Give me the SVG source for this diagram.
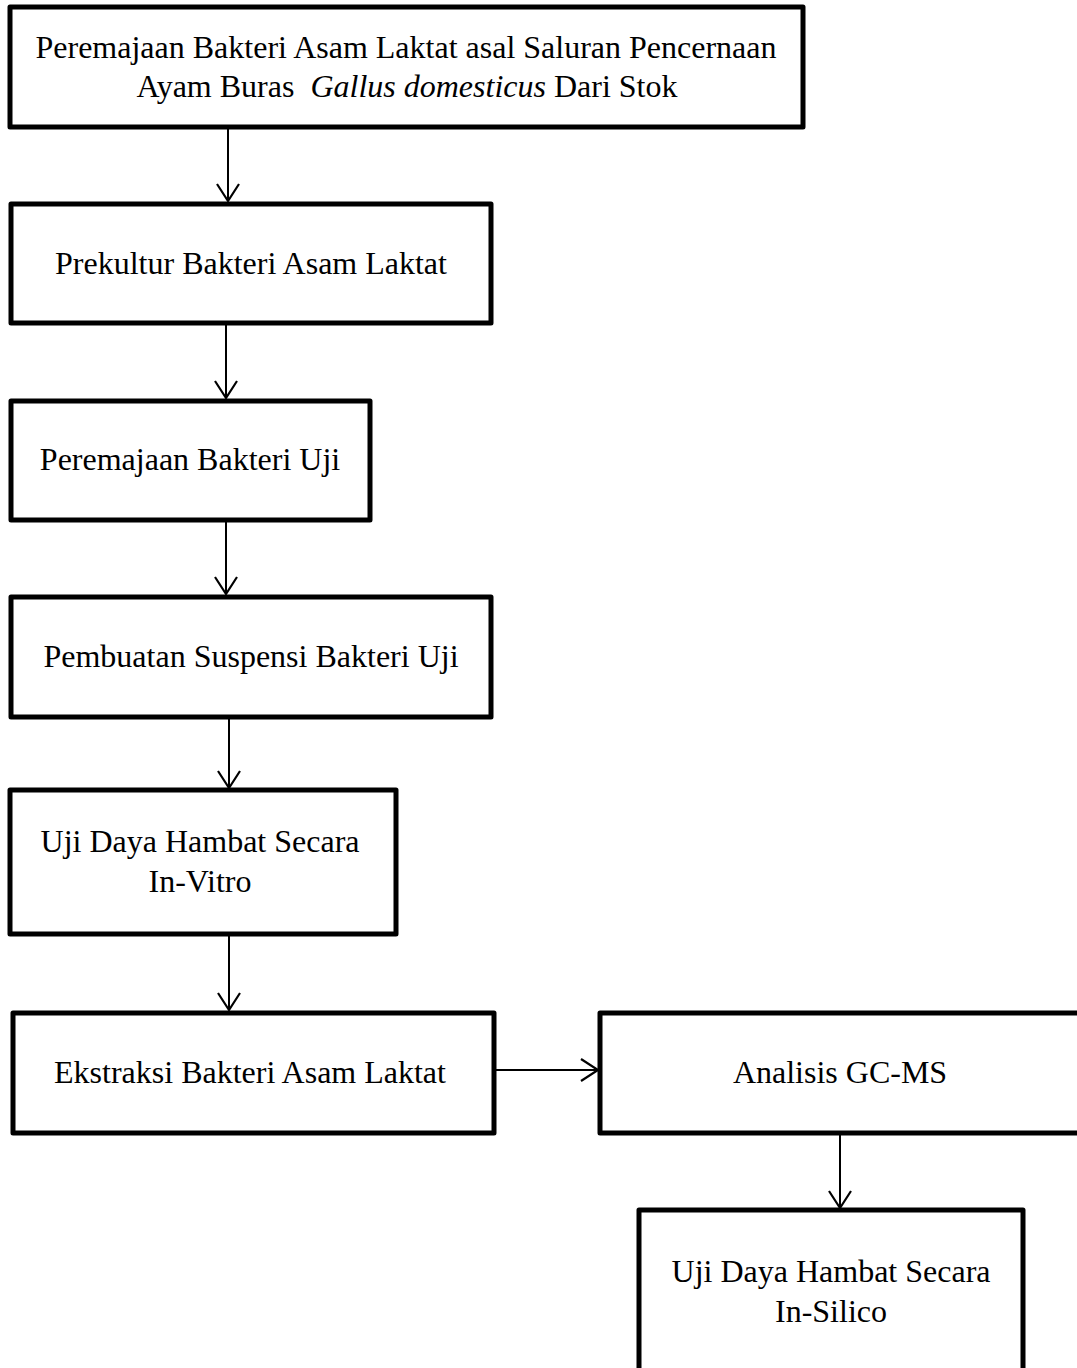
<svg xmlns="http://www.w3.org/2000/svg" width="1077" height="1368" viewBox="0 0 1077 1368">
<style>
.box{fill:#fff;stroke:#000;stroke-width:5;stroke-linejoin:round}
.t{font-family:"Liberation Serif","Times New Roman",serif;font-size:32px;fill:#000;text-anchor:middle}
.c{stroke:#000;stroke-width:2;fill:none}
</style>
<defs>
<marker id="ah" markerUnits="userSpaceOnUse" markerWidth="24" markerHeight="26" viewBox="-20 -13 22 26" refX="0" refY="0" orient="auto">
<path d="M-17,-11 L0,0 L-17,11" fill="none" stroke="#000" stroke-width="2.2"/>
</marker>
</defs>
<rect width="1077" height="1368" fill="#fff"/>
<g id="connectors">
<line class="c" x1="228" y1="127" x2="228" y2="201" marker-end="url(#ah)"/>
<line class="c" x1="226" y1="323" x2="226" y2="398" marker-end="url(#ah)"/>
<line class="c" x1="226" y1="520" x2="226" y2="594" marker-end="url(#ah)"/>
<line class="c" x1="229" y1="717" x2="229" y2="788" marker-end="url(#ah)"/>
<line class="c" x1="229" y1="934" x2="229" y2="1010" marker-end="url(#ah)"/>
<line class="c" x1="494" y1="1070" x2="598" y2="1070" marker-end="url(#ah)"/>
<line class="c" x1="840" y1="1133" x2="840" y2="1208" marker-end="url(#ah)"/>
</g>
<g id="n1">
<rect class="box" x="10" y="7" width="793" height="120"/>
<text class="t" x="406" y="58">Peremajaan Bakteri Asam Laktat asal Saluran Pencernaan</text>
<text class="t" x="407" y="97" xml:space="preserve">Ayam Buras  <tspan font-style="italic">Gallus domesticus</tspan> Dari Stok</text>
</g>
<g id="n2">
<rect class="box" x="11" y="204" width="480" height="119"/>
<text class="t" x="251" y="274">Prekultur Bakteri Asam Laktat</text>
</g>
<g id="n3">
<rect class="box" x="11" y="401" width="359" height="119"/>
<text class="t" x="190" y="470">Peremajaan Bakteri Uji</text>
</g>
<g id="n4">
<rect class="box" x="11" y="597" width="480" height="120"/>
<text class="t" x="251" y="667">Pembuatan Suspensi Bakteri Uji</text>
</g>
<g id="n5">
<rect class="box" x="10" y="790" width="386" height="144"/>
<text class="t" x="200" y="852">Uji Daya Hambat Secara</text>
<text class="t" x="200" y="892">In-Vitro</text>
</g>
<g id="n6">
<rect class="box" x="13" y="1013" width="481" height="120"/>
<text class="t" x="250" y="1083">Ekstraksi Bakteri Asam Laktat</text>
</g>
<g id="n7">
<rect class="box" x="600" y="1013" width="500" height="120"/>
<text class="t" x="840" y="1083">Analisis GC-MS</text>
</g>
<g id="n8">
<rect class="box" x="639" y="1210" width="384" height="200"/>
<text class="t" x="831" y="1282">Uji Daya Hambat Secara</text>
<text class="t" x="831" y="1322">In-Silico</text>
</g>
</svg>
